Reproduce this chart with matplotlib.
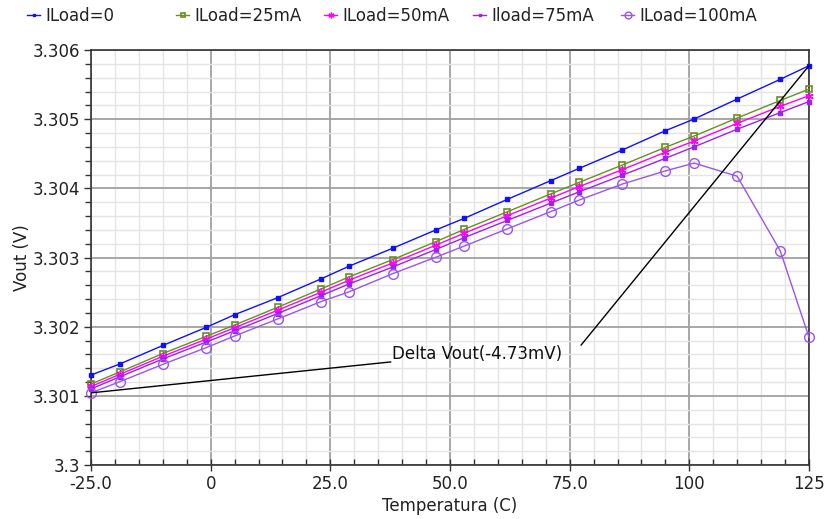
import matplotlib
matplotlib.use('Agg')
import matplotlib.pyplot as plt
from matplotlib.ticker import MultipleLocator, FixedLocator, FixedFormatter

# ---- data ----
temps = [-25, -19, -10, -1, 5, 14, 23, 29, 38, 47, 53, 62, 71, 77, 86, 95, 101, 110, 119, 125]
iload_0 = [3.301300, 3.301460, 3.301728, 3.301988, 3.302173, 3.302419, 3.302689, 3.302877,
           3.303133, 3.303397, 3.303567, 3.303841, 3.304110, 3.304289, 3.304554, 3.304833,
           3.305002, 3.305291, 3.305576, 3.305773]
iload_25 = [3.301171, 3.301345, 3.301612, 3.301858, 3.302024, 3.302280, 3.302544, 3.302722,
            3.302969, 3.303228, 3.303407, 3.303662, 3.303918, 3.304087, 3.304337, 3.304593,
            3.304756, 3.305017, 3.305270, 3.305435]
iload_50 = [3.301135, 3.301310, 3.301572, 3.301818, 3.301985, 3.302238, 3.302497, 3.302675,
            3.302920, 3.303177, 3.303352, 3.303605, 3.303858, 3.304025, 3.304270, 3.304523,
            3.304684, 3.304940, 3.305185, 3.305340]
iload_75 = [3.301100, 3.301275, 3.301533, 3.301776, 3.301940, 3.302190, 3.302447, 3.302620,
            3.302862, 3.303115, 3.303288, 3.303537, 3.303785, 3.303950, 3.304190, 3.304434,
            3.304600, 3.304855, 3.305095, 3.305255]
iload_100 = [3.301043, 3.301204, 3.301455, 3.301695, 3.301865, 3.302111, 3.302361, 3.302506,
             3.302766, 3.303003, 3.303166, 3.303415, 3.303662, 3.303831, 3.304062, 3.304252,
             3.304365, 3.304175, 3.303095, 3.301846]
labels = ["ILoad=0", "ILoad=25mA", "ILoad=50mA", "Iload=75mA", "ILoad=100mA"]
x_ticks = [-25, 0, 25, 50, 75, 100, 125]
x_ticklabels = ["-25.0", "0", "25.0", "50.0", "75.0", "100", "125"]
y_ticks = [3.300, 3.301, 3.302, 3.303, 3.304, 3.305, 3.306]
y_ticklabels = ["3.3", "3.301", "3.302", "3.303", "3.304", "3.305", "3.306"]

plt.rcParams['font.family'] = ['DejaVu Sans']
fig = plt.figure(figsize=(8.25, 5.19), dpi=100)
ax = fig.add_axes([91/825, 54/519, 718/825, 415/519])

series = [iload_0, iload_25, iload_50, iload_75, iload_100]
styles = [
    dict(color='#1010ff', marker='s', ms=2.5, mfc='#1010ff', mec='#1010ff'),
    dict(color='#6b8e23', marker='s', ms=4, mfc='none', mec='#6b8e23', mew=1.2),
    dict(color='#ff00ff', marker=(6, 2, 0), ms=6, mec='#ff00ff', mew=1.0),
    dict(color='#a020f0', marker='s', ms=2.5, mfc='#a020f0', mec='#a020f0'),
    dict(color='#9955ee', marker='o', ms=7, mfc='none', mec='#9955ee', mew=1.0),
]
lines = []
for ys, st, lab in zip(series, styles, labels):
    ln, = ax.plot(temps, ys, lw=1.0, label=lab, clip_on=False, zorder=3, **st)
    lines.append(ln)

ax.set_xlim(-25, 125)
ax.set_ylim(3.300, 3.306)
ax.xaxis.set_major_locator(FixedLocator(x_ticks))
ax.xaxis.set_major_formatter(FixedFormatter(x_ticklabels))
ax.xaxis.set_minor_locator(MultipleLocator(5))
ax.yaxis.set_major_locator(FixedLocator(y_ticks))
ax.yaxis.set_major_formatter(FixedFormatter(y_ticklabels))
ax.yaxis.set_minor_locator(MultipleLocator(0.0002))

ax.grid(which='major', color='#a0a0a0', lw=1.3, zorder=0)
ax.grid(which='minor', color='#e4e4e4', lw=1.0, zorder=0)
ax.set_axisbelow(True)
for sp in ax.spines.values():
    sp.set_color('#333333')
    sp.set_linewidth(1.2)

ax.tick_params(axis='both', which='major', labelsize=12, colors='#333333',
               labelcolor='#222222', length=5, width=1.0)
ax.tick_params(axis='both', which='minor', length=4, width=1.0, colors='#333333')
ax.tick_params(axis='x', which='minor', direction='in')
ax.tick_params(axis='x', which='major', direction='inout', length=8, pad=3)
ax.tick_params(axis='y', which='both', direction='out', pad=3)

ax.set_xlabel("Temperatura (C)", fontsize=12, color='#222222', labelpad=3)
ax.set_ylabel("Vout (V)", fontsize=12, color='#222222', labelpad=1)

# ---- delta annotation ----
delta_mV = (iload_0[-1] - iload_100[0]) * 1000
text_x, text_y = 37.9, 3.30161
ax.text(text_x, text_y, "Delta Vout(%.2fmV)" % (-delta_mV), fontsize=12,
        ha='left', va='center', color='#111111', zorder=5)
ax.plot([temps[0], 37.6], [iload_100[0], 3.301490], color='black', lw=1.0, zorder=4)
ax.plot([77.4, temps[-1]], [3.301735, iload_0[-1]], color='black', lw=1.0, zorder=4)

# ---- legend, one entry per slot ----
leg_x = [27, 176, 324, 473, 621]
for ln, lab, lx in zip(lines, labels, leg_x):
    lg = fig.legend(handles=[ln], labels=[lab], loc='center left',
                    bbox_to_anchor=(lx/825, 1 - 16/519), frameon=False,
                    handlelength=0.8, handletextpad=0.3, borderpad=0,
                    borderaxespad=0, fontsize=12, markerscale=0.7)
    for t in lg.get_texts():
        t.set_color('#222222')

fig.savefig("out.png", dpi=100)
